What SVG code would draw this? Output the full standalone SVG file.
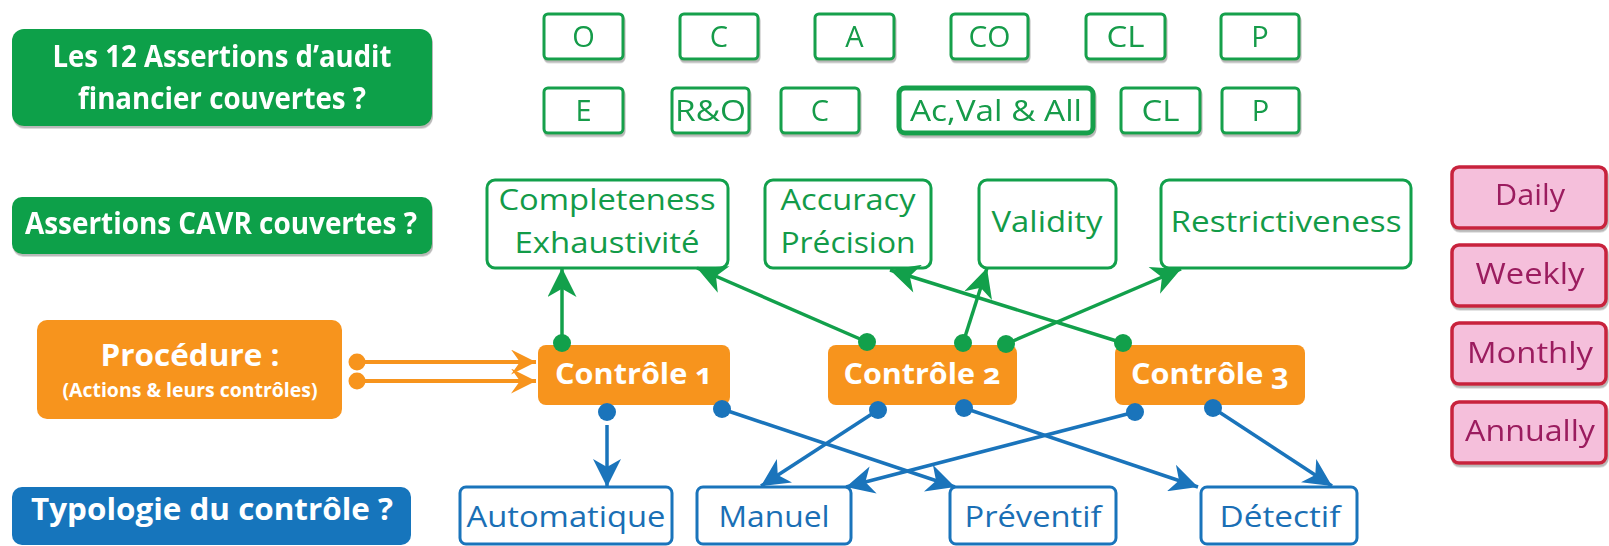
<svg xmlns="http://www.w3.org/2000/svg" width="1609" height="546" viewBox="0 0 1609 546">
  <defs>
    <style>
      text { font-family: "Open Sans", "Noto Sans", "DejaVu Sans", sans-serif; text-anchor: middle; }
      .head { font-weight: 700; fill: #ffffff; font-size: 31px; }
      .ctl { font-weight: 700; fill: #ffffff; font-size: 29px; font-variant-numeric: oldstyle-nums; }
      .green-fill { fill: #10a04a; }
      .orange-fill { fill: #f7941d; }
      .blue-fill { fill: #1675bc; }
      .gbox { fill: #ffffff; stroke: #12a04b; stroke-width: 3; }
      .gtxt { fill: #129b48; font-size: 29px; }
      .ctxt { fill: #129b48; font-size: 30px; }
      .bbox { fill: #ffffff; stroke: #1a74bb; stroke-width: 3; }
      .btxt { fill: #1a6fb5; font-size: 29px; }
      .pbox { fill: #f5bfdb; stroke: #c8243c; stroke-width: 3.5; }
      .ptxt { fill: #9b1d5e; font-size: 29px; }
      .lg { stroke: #12a04b; stroke-width: 3.5; fill: none; marker-end: url(#arr-g); }
      .lb { stroke: #1a74bb; stroke-width: 3.5; fill: none; marker-end: url(#arr-b); }
      .lo { stroke: #f7941d; stroke-width: 4; fill: none; marker-end: url(#arr-o); }
      .dg { fill: #12a04b; }
      .db { fill: #1a74bb; }
      .do { fill: #f7941d; }
    </style>
    <filter id="shadow" x="-5%" y="-10%" width="115%" height="130%">
      <feDropShadow dx="1" dy="2.5" stdDeviation="0.6" flood-color="#808080" flood-opacity="0.55"/>
    </filter>
    <marker id="arr-g" viewBox="0 0 28 28" refX="28" refY="14" markerWidth="30" markerHeight="29" markerUnits="userSpaceOnUse" orient="auto">
      <path d="M28,14 L0,0 L8,14 L0,28 Z" fill="#12a04b"/>
    </marker>
    <marker id="arr-b" viewBox="0 0 28 28" refX="28" refY="14" markerWidth="29" markerHeight="28" markerUnits="userSpaceOnUse" orient="auto">
      <path d="M28,14 L0,0 L8,14 L0,28 Z" fill="#1a74bb"/>
    </marker>
    <marker id="arr-o" viewBox="0 0 28 28" refX="28" refY="14" markerWidth="29" markerHeight="25" markerUnits="userSpaceOnUse" orient="auto">
      <path d="M28,14 L0,0 L10,14 L0,28 Z" fill="#f7941d"/>
    </marker>
  </defs>

  <rect width="1609" height="546" fill="#ffffff"/>

  <!-- Row headings -->
  <g id="head-audit" filter="url(#shadow)">
    <rect class="green-fill" x="12" y="29" width="420" height="97" rx="12"/>
    <text class="head" x="222" y="67" textLength="339" lengthAdjust="spacingAndGlyphs">Les 12 Assertions d’audit</text>
    <text class="head" x="222" y="109" textLength="288" lengthAdjust="spacingAndGlyphs">financier couvertes ?</text>
  </g>
  <g id="head-cavr" filter="url(#shadow)">
    <rect class="green-fill" x="12" y="197" width="420" height="57" rx="10"/>
    <text class="head" x="221" y="234" textLength="392" lengthAdjust="spacingAndGlyphs">Assertions CAVR couvertes ?</text>
  </g>
  <g id="head-procedure">
    <rect class="orange-fill" x="37" y="320" width="305" height="99" rx="10"/>
    <text class="head" x="190" y="366" style="font-size:30px" textLength="179" lengthAdjust="spacingAndGlyphs">Procédure :</text>
    <text class="head" x="190" y="397" style="font-size:19px" textLength="255" lengthAdjust="spacingAndGlyphs">(Actions &amp; leurs contrôles)</text>
  </g>
  <g id="head-typologie">
    <rect class="blue-fill" x="12" y="487" width="399" height="58" rx="10"/>
    <text class="head" x="212" y="520" textLength="362" lengthAdjust="spacingAndGlyphs">Typologie du contrôle ?</text>
  </g>

  <!-- Financial audit assertions, first row -->
  <g id="fa-o" filter="url(#shadow)"><rect class="gbox" x="544" y="14" width="79" height="45" rx="4"/><text class="gtxt" x="583.5" y="47">O</text></g>
  <g id="fa-c" filter="url(#shadow)"><rect class="gbox" x="680" y="14" width="78" height="45" rx="4"/><text class="gtxt" x="719" y="47">C</text></g>
  <g id="fa-a" filter="url(#shadow)"><rect class="gbox" x="815" y="14" width="79" height="45" rx="4"/><text class="gtxt" x="854.5" y="47">A</text></g>
  <g id="fa-co" filter="url(#shadow)"><rect class="gbox" x="951" y="14" width="77" height="45" rx="4"/><text class="gtxt" x="989.5" y="47" textLength="42" lengthAdjust="spacingAndGlyphs">CO</text></g>
  <g id="fa-cl" filter="url(#shadow)"><rect class="gbox" x="1086" y="14" width="79" height="45" rx="4"/><text class="gtxt" x="1125.5" y="47" textLength="38" lengthAdjust="spacingAndGlyphs">CL</text></g>
  <g id="fa-p" filter="url(#shadow)"><rect class="gbox" x="1221" y="14" width="78" height="45" rx="4"/><text class="gtxt" x="1260" y="47">P</text></g>

  <!-- Financial audit assertions, second row -->
  <g id="fa-e" filter="url(#shadow)"><rect class="gbox" x="544" y="88" width="79" height="45" rx="4"/><text class="gtxt" x="583.5" y="121">E</text></g>
  <g id="fa-ro" filter="url(#shadow)"><rect class="gbox" x="672" y="88" width="77" height="45" rx="4"/><text class="gtxt" x="710.5" y="121" textLength="71" lengthAdjust="spacingAndGlyphs">R&amp;O</text></g>
  <g id="fa-c2" filter="url(#shadow)"><rect class="gbox" x="781" y="88" width="78" height="45" rx="4"/><text class="gtxt" x="820" y="121">C</text></g>
  <g id="fa-acval" filter="url(#shadow)"><rect class="gbox" x="899" y="88" width="194" height="45" rx="6" style="stroke-width:5"/><text class="gtxt" x="996" y="121" textLength="172" lengthAdjust="spacingAndGlyphs">Ac,Val &amp; All</text></g>
  <g id="fa-cl2" filter="url(#shadow)"><rect class="gbox" x="1121" y="88" width="79" height="45" rx="4"/><text class="gtxt" x="1160.5" y="121" textLength="38" lengthAdjust="spacingAndGlyphs">CL</text></g>
  <g id="fa-p2" filter="url(#shadow)"><rect class="gbox" x="1222" y="88" width="77" height="45" rx="4"/><text class="gtxt" x="1260.5" y="121">P</text></g>

  <!-- CAVR assertions -->
  <g id="cavr-completeness">
    <rect class="gbox" x="487" y="180" width="241" height="88" rx="8"/>
    <text class="ctxt" x="607" y="210" textLength="217" lengthAdjust="spacingAndGlyphs">Completeness</text>
    <text class="ctxt" x="607" y="253" textLength="185" lengthAdjust="spacingAndGlyphs">Exhaustivité</text>
  </g>
  <g id="cavr-accuracy">
    <rect class="gbox" x="765" y="180" width="166" height="88" rx="8"/>
    <text class="ctxt" x="848" y="210" textLength="135" lengthAdjust="spacingAndGlyphs">Accuracy</text>
    <text class="ctxt" x="848" y="253" textLength="135" lengthAdjust="spacingAndGlyphs">Précision</text>
  </g>
  <g id="cavr-validity">
    <rect class="gbox" x="979" y="180" width="137" height="88" rx="8"/>
    <text class="ctxt" x="1047" y="232" textLength="111" lengthAdjust="spacingAndGlyphs">Validity</text>
  </g>
  <g id="cavr-restrictiveness">
    <rect class="gbox" x="1161" y="180" width="250" height="88" rx="8"/>
    <text class="ctxt" x="1286" y="232" textLength="231" lengthAdjust="spacingAndGlyphs">Restrictiveness</text>
  </g>

  <!-- Frequencies -->
  <g id="freq-daily" filter="url(#shadow)"><rect class="pbox" x="1452" y="167" width="154" height="61" rx="7"/><text class="ptxt" x="1530" y="205" textLength="70" lengthAdjust="spacingAndGlyphs">Daily</text></g>
  <g id="freq-weekly" filter="url(#shadow)"><rect class="pbox" x="1452" y="245" width="154" height="61" rx="7"/><text class="ptxt" x="1530" y="284" textLength="109" lengthAdjust="spacingAndGlyphs">Weekly</text></g>
  <g id="freq-monthly" filter="url(#shadow)"><rect class="pbox" x="1452" y="323" width="154" height="61" rx="7"/><text class="ptxt" x="1530" y="363" textLength="126" lengthAdjust="spacingAndGlyphs">Monthly</text></g>
  <g id="freq-annually" filter="url(#shadow)"><rect class="pbox" x="1452" y="402" width="154" height="61" rx="7"/><text class="ptxt" x="1530" y="441" textLength="130" lengthAdjust="spacingAndGlyphs">Annually</text></g>

  <!-- Controls -->
  <g id="controle-1">
    <rect class="orange-fill" x="538" y="345" width="192" height="60" rx="8"/>
    <text class="ctl" x="634" y="384" textLength="158" lengthAdjust="spacingAndGlyphs">Contrôle 1</text>
  </g>
  <g id="controle-2">
    <rect class="orange-fill" x="828" y="345" width="189" height="60" rx="8"/>
    <text class="ctl" x="922" y="384" textLength="157" lengthAdjust="spacingAndGlyphs">Contrôle 2</text>
  </g>
  <g id="controle-3">
    <rect class="orange-fill" x="1115" y="345" width="190" height="60" rx="8"/>
    <text class="ctl" x="1210" y="384" textLength="158" lengthAdjust="spacingAndGlyphs">Contrôle 3</text>
  </g>

  <!-- Control types -->
  <g id="type-automatique"><rect class="bbox" x="460" y="487" width="212" height="57" rx="6"/><text class="btxt" x="566" y="527" textLength="199" lengthAdjust="spacingAndGlyphs">Automatique</text></g>
  <g id="type-manuel"><rect class="bbox" x="697" y="487" width="154" height="57" rx="6"/><text class="btxt" x="774" y="527" textLength="111" lengthAdjust="spacingAndGlyphs">Manuel</text></g>
  <g id="type-preventif"><rect class="bbox" x="950" y="487" width="166" height="57" rx="6"/><text class="btxt" x="1033" y="527" textLength="137" lengthAdjust="spacingAndGlyphs">Préventif</text></g>
  <g id="type-detectif"><rect class="bbox" x="1201" y="487" width="156" height="57" rx="6"/><text class="btxt" x="1280" y="527" textLength="121" lengthAdjust="spacingAndGlyphs">Détectif</text></g>

  <!-- Connectors -->
  <g id="connectors">
    <!-- procedure feeds control 1 -->
    <line class="lo" x1="362" y1="362" x2="536" y2="362"/>
    <line class="lo" x1="362" y1="381" x2="536" y2="381"/>
    <circle class="do" cx="357" cy="362" r="8.5"/>
    <circle class="do" cx="357" cy="381" r="8.5"/>

    <!-- controls to CAVR assertions -->
    <line class="lg" x1="562" y1="343" x2="562" y2="268"/>
    <line class="lg" x1="867" y1="342" x2="697" y2="268"/>
    <line class="lg" x1="963" y1="343" x2="987" y2="268"/>
    <line class="lg" x1="1006" y1="344" x2="1181" y2="269"/>
    <line class="lg" x1="1123" y1="343" x2="890" y2="270"/>
    <circle class="dg" cx="562" cy="343" r="9"/>
    <circle class="dg" cx="867" cy="342" r="9"/>
    <circle class="dg" cx="963" cy="343" r="9"/>
    <circle class="dg" cx="1006" cy="344" r="9"/>
    <circle class="dg" cx="1123" cy="343" r="9"/>

    <!-- controls to control types -->
    <line class="lb" x1="607" y1="425" x2="607" y2="487"/>
    <line class="lb" x1="722" y1="409" x2="955" y2="487"/>
    <line class="lb" x1="878" y1="410" x2="761" y2="486"/>
    <line class="lb" x1="964" y1="408" x2="1198" y2="487"/>
    <line class="lb" x1="1135" y1="412" x2="846" y2="487"/>
    <line class="lb" x1="1213" y1="408" x2="1332" y2="486"/>
    <circle class="db" cx="607" cy="412" r="9"/>
    <circle class="db" cx="722" cy="409" r="9"/>
    <circle class="db" cx="878" cy="410" r="9"/>
    <circle class="db" cx="964" cy="408" r="9"/>
    <circle class="db" cx="1135" cy="412" r="9"/>
    <circle class="db" cx="1213" cy="408" r="9"/>
  </g>
</svg>
